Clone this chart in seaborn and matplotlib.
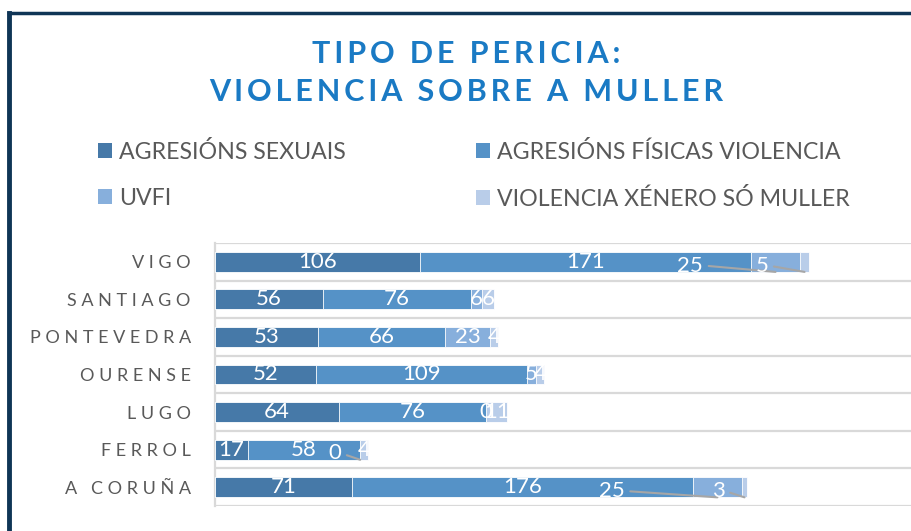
import matplotlib
matplotlib.use("Agg")
import matplotlib.pyplot as plt
from matplotlib.lines import Line2D
from matplotlib.patches import Patch
import numpy as np
import pandas as pd
import seaborn as sns

# data
cities = ["VIGO", "SANTIAGO", "PONTEVEDRA", "OURENSE", "LUGO", "FERROL", "A CORUÑA"]
series = ["AGRESIÓNS SEXUAIS", "AGRESIÓNS FÍSICAS VIOLENCIA", "UVFI",
          "VIOLENCIA XÉNERO SÓ MULLER"]
agresions_sexuais = [106, 56, 53, 52, 64, 17, 71]
agresions_fisicas = [171, 76, 66, 109, 76, 58, 176]
uvfi = [25, 6, 23, 5, 0, 0, 25]
violencia_xenero = [5, 6, 4, 4, 11, 4, 3]

colors = ["#4679A8", "#5592C7", "#87AFDC", "#B9CDE9"]
TITLE_BLUE = "#1A7AC4"
GREY_TXT = "#595959"
GRID = "#D9D9D9"

# labels that sit left of their segment with a leader line: (city, series index) -> label x
moved_labels = {
    ("VIGO", 2): 245.5, ("VIGO", 3): 282.5,
    ("A CORUÑA", 2): 205, ("A CORUÑA", 3): 260,
    ("FERROL", 2): 62,
}

plt.rcParams["font.family"] = ["Lato", "DejaVu Sans"]


def spaced(s, gap=" "):
    return gap.join(s)


df = pd.DataFrame({"city": cities, series[0]: agresions_sexuais, series[1]: agresions_fisicas,
                   series[2]: uvfi, series[3]: violencia_xenero})
vals = df[series].to_numpy()
cum = vals.cumsum(axis=1)

fig = plt.figure(figsize=(9.12, 5.31), dpi=100)
ax = fig.add_axes([0.2357, 0.0471, 0.7643, 0.4953])

# stacked bars: draw cumulative totals from longest to shortest
for k in range(len(series) - 1, -1, -1):
    sns.barplot(x=cum[:, k], y=df["city"], orient="h", color=colors[k], saturation=1,
                width=0.53, edgecolor="white", linewidth=0.6, ax=ax, zorder=3)

ax.set_xlim(0, 360)
ax.set_ylim(len(cities) - 0.5, -0.5)
for b in np.arange(len(cities) + 1) - 0.5:
    ax.axhline(b, color=GRID, lw=1.6, zorder=1)
for s in ["top", "right", "bottom"]:
    ax.spines[s].set_visible(False)
ax.spines["left"].set_color(GRID)
ax.spines["left"].set_linewidth(1.6)
ax.set_xticks([])
ax.set_xlabel("")
ax.set_ylabel("")
ax.set_yticks(range(len(cities)))
ax.set_yticklabels([spaced(c) for c in cities], fontsize=13, color=GREY_TXT)
ax.tick_params(axis="y", length=0, pad=17.5)

# data labels
for i, city in enumerate(cities):
    for k in range(len(series)):
        v = vals[i, k]
        center = cum[i, k] - v / 2
        if (city, k) in moved_labels:
            lx = moved_labels[(city, k)]
            ax.annotate(str(v), xy=(center, i + 0.27), xytext=(lx, i + 0.1),
                        ha="center", va="center", fontsize=16, color="white", zorder=6,
                        arrowprops=dict(arrowstyle="-", color="#A6A6A6", lw=1.5,
                                        shrinkA=2, shrinkB=0, relpos=(1, 0.5)))
        else:
            ax.text(center, i, str(v), ha="center", va="center", fontsize=16,
                    color="white", zorder=6)

# title (letter-spaced with thin spaces)
for txt, y in [("TIPO DE PERICIA:", 0.898), ("VIOLENCIA SOBRE A MULLER", 0.827)]:
    fig.text(0.511, y, spaced(txt, "\u2009"), ha="center", va="center",
             fontsize=22, fontweight="bold", color=TITLE_BLUE)

# legend
handles = [Patch(facecolor=c, edgecolor="none") for c in colors]
order = [0, 2, 1, 3]
fig.legend([handles[j] for j in order], [series[j] for j in order], ncol=2,
           loc="upper left", bbox_to_anchor=(0.095, 0.757), frameon=False,
           fontsize=16.7, labelcolor=GREY_TXT, handlelength=0.6, handleheight=0.6,
           handletextpad=0.3, columnspacing=5.6, labelspacing=1.08, borderpad=0)

# frame lines
fig.add_artist(Line2D([0.0104, 1.0], [0.9755, 0.9755], color="#0F3556", lw=2.5))
fig.add_artist(Line2D([0.0104, 0.0104], [0.0, 0.9755], color="#0F3556", lw=3.5))

fig.savefig("out.png", dpi=100)
